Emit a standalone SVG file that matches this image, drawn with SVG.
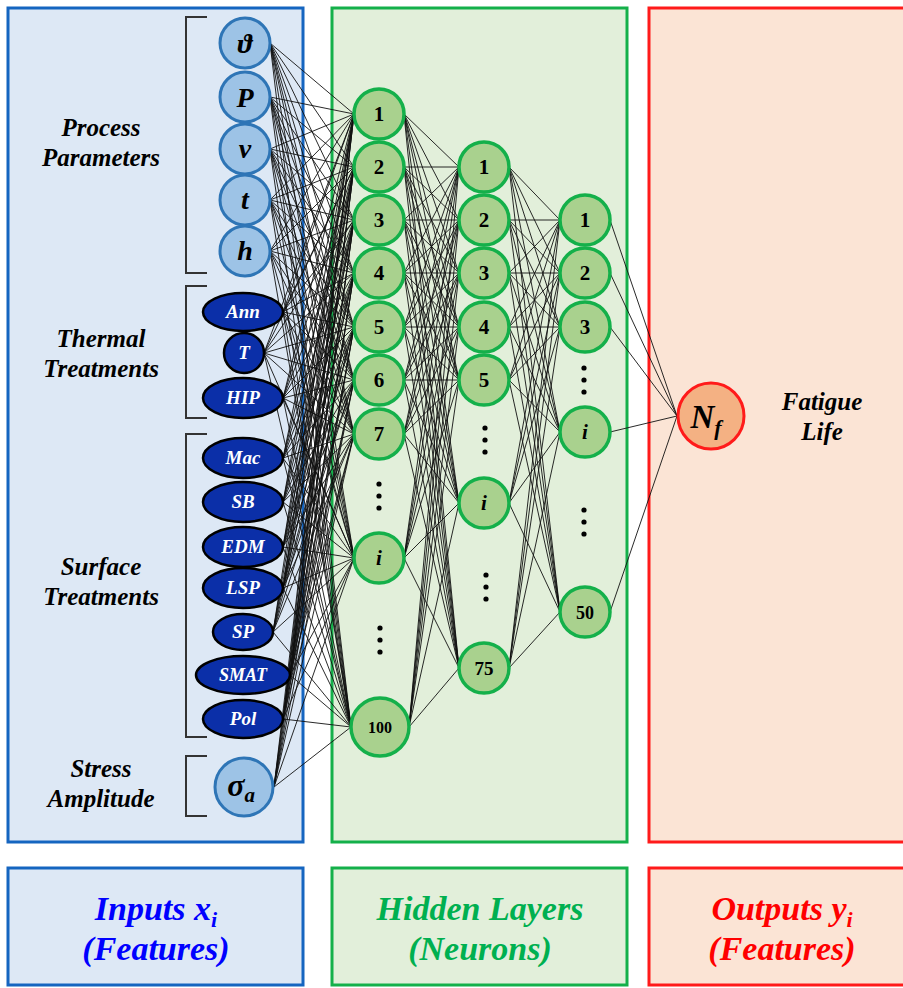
<svg xmlns="http://www.w3.org/2000/svg" width="903" height="988" viewBox="0 0 903 988">
<style>
.t{font-family:"Liberation Serif","Times New Roman","DejaVu Serif",serif;font-weight:bold;font-style:italic}
.n{font-family:"Liberation Serif","Times New Roman","DejaVu Serif",serif;font-weight:bold}
.inC{fill:#9dc3e6;stroke:#2e75b6;stroke-width:3}
.inE{fill:#0b2fa8;stroke:#000;stroke-width:2.5}
.hid{fill:#a9d18e;stroke:#14b04a;stroke-width:3.5}
.br{fill:none;stroke:#333;stroke-width:2}
.edges path{fill:none;stroke:#111;stroke-width:0.9}
.dot{fill:#000}
</style>
<rect width="903" height="988" fill="#fff"/>
<g id="panels">
<rect x="8" y="8" width="295" height="834" fill="#dde8f5" stroke="#1565c0" stroke-width="3"/>
<rect x="332" y="8" width="295" height="834" fill="#e2efda" stroke="#14b04a" stroke-width="3"/>
<rect x="649" y="8" width="260" height="834" fill="#fbe4d5" stroke="#ff1a1a" stroke-width="3"/>
<rect x="8" y="868" width="295" height="117" fill="#dde8f5" stroke="#1565c0" stroke-width="3"/>
<rect x="332" y="868" width="295" height="117" fill="#e2efda" stroke="#14b04a" stroke-width="3"/>
<rect x="649" y="868" width="260" height="117" fill="#fbe4d5" stroke="#ff1a1a" stroke-width="3"/>
</g>
<g id="brackets">
<path class="br" d="M207 17H186V273H207"/>
<path class="br" d="M207 286H186V418H207"/>
<path class="br" d="M207 434H186V737H207"/>
<path class="br" d="M207 756H186V816H207"/>
</g>
<g id="group-labels" class="t" font-size="25" text-anchor="middle" fill="#000">
<text x="101" y="136">Process</text><text x="101" y="166">Parameters</text>
<text x="101" y="347">Thermal</text><text x="101" y="377">Treatments</text>
<text x="101" y="575">Surface</text><text x="101" y="605">Treatments</text>
<text x="101" y="777">Stress</text><text x="101" y="807">Amplitude</text>
<text x="822" y="410">Fatigue</text><text x="822" y="440">Life</text>
</g>
<g id="connectors" class="edges">
<path d="M270 43L354 114M270 43L354 167M270 43L354 220M270 43L354 273M270 43L354 327M270 43L354 380M270 43L354 434M270 43L354 558M270 43L351 727"/>
<path d="M270 97L354 114M270 97L354 167M270 97L354 220M270 97L354 273M270 97L354 327M270 97L354 380M270 97L354 434M270 97L354 558M270 97L351 727"/>
<path d="M270 149L354 114M270 149L354 167M270 149L354 220M270 149L354 273M270 149L354 327M270 149L354 380M270 149L354 434M270 149L354 558M270 149L351 727"/>
<path d="M270 200L354 114M270 200L354 167M270 200L354 220M270 200L354 273M270 200L354 327M270 200L354 380M270 200L354 434M270 200L354 558M270 200L351 727"/>
<path d="M270 251L354 114M270 251L354 167M270 251L354 220M270 251L354 273M270 251L354 327M270 251L354 380M270 251L354 434M270 251L354 558M270 251L351 727"/>
<path d="M283 312L354 114M283 312L354 167M283 312L354 220M283 312L354 273M283 312L354 327M283 312L354 380M283 312L354 434M283 312L354 558M283 312L351 727"/>
<path d="M264 353L354 114M264 353L354 167M264 353L354 220M264 353L354 273M264 353L354 327M264 353L354 380M264 353L354 434M264 353L354 558M264 353L351 727"/>
<path d="M283 398L354 114M283 398L354 167M283 398L354 220M283 398L354 273M283 398L354 327M283 398L354 380M283 398L354 434M283 398L354 558M283 398L351 727"/>
<path d="M283 458L354 114M283 458L354 167M283 458L354 220M283 458L354 273M283 458L354 327M283 458L354 380M283 458L354 434M283 458L354 558M283 458L351 727"/>
<path d="M283 502L354 114M283 502L354 167M283 502L354 220M283 502L354 273M283 502L354 327M283 502L354 380M283 502L354 434M283 502L354 558M283 502L351 727"/>
<path d="M283 547L354 114M283 547L354 167M283 547L354 220M283 547L354 273M283 547L354 327M283 547L354 380M283 547L354 434M283 547L354 558M283 547L351 727"/>
<path d="M283 588L354 114M283 588L354 167M283 588L354 220M283 588L354 273M283 588L354 327M283 588L354 380M283 588L354 434M283 588L354 558M283 588L351 727"/>
<path d="M273 632L354 114M273 632L354 167M273 632L354 220M273 632L354 273M273 632L354 327M273 632L354 380M273 632L354 434M273 632L354 558M273 632L351 727"/>
<path d="M290 675L354 114M290 675L354 167M290 675L354 220M290 675L354 273M290 675L354 327M290 675L354 380M290 675L354 434M290 675L354 558M290 675L351 727"/>
<path d="M283 719L354 114M283 719L354 167M283 719L354 220M283 719L354 273M283 719L354 327M283 719L354 380M283 719L354 434M283 719L354 558M283 719L351 727"/>
<path d="M274 787L354 114M274 787L354 167M274 787L354 220M274 787L354 273M274 787L354 327M274 787L354 380M274 787L354 434M274 787L354 558M274 787L351 727"/>
<path d="M404 114L459 167M404 114L459 220M404 114L459 273M404 114L459 327M404 114L459 380M404 114L459 503M404 114L459 668"/>
<path d="M404 167L459 167M404 167L459 220M404 167L459 273M404 167L459 327M404 167L459 380M404 167L459 503M404 167L459 668"/>
<path d="M404 220L459 167M404 220L459 220M404 220L459 273M404 220L459 327M404 220L459 380M404 220L459 503M404 220L459 668"/>
<path d="M404 273L459 167M404 273L459 220M404 273L459 273M404 273L459 327M404 273L459 380M404 273L459 503M404 273L459 668"/>
<path d="M404 327L459 167M404 327L459 220M404 327L459 273M404 327L459 327M404 327L459 380M404 327L459 503M404 327L459 668"/>
<path d="M404 380L459 167M404 380L459 220M404 380L459 273M404 380L459 327M404 380L459 380M404 380L459 503M404 380L459 668"/>
<path d="M404 434L459 167M404 434L459 220M404 434L459 273M404 434L459 327M404 434L459 380M404 434L459 503M404 434L459 668"/>
<path d="M404 558L459 167M404 558L459 220M404 558L459 273M404 558L459 327M404 558L459 380M404 558L459 503M404 558L459 668"/>
<path d="M409 727L459 167M409 727L459 220M409 727L459 273M409 727L459 327M409 727L459 380M409 727L459 503M409 727L459 668"/>
<path d="M509 167L560 220M509 167L560 273M509 167L560 327M509 167L560 432M509 167L560 612"/>
<path d="M509 220L560 220M509 220L560 273M509 220L560 327M509 220L560 432M509 220L560 612"/>
<path d="M509 273L560 220M509 273L560 273M509 273L560 327M509 273L560 432M509 273L560 612"/>
<path d="M509 327L560 220M509 327L560 273M509 327L560 327M509 327L560 432M509 327L560 612"/>
<path d="M509 380L560 220M509 380L560 273M509 380L560 327M509 380L560 432M509 380L560 612"/>
<path d="M509 503L560 220M509 503L560 273M509 503L560 327M509 503L560 432M509 503L560 612"/>
<path d="M509 668L560 220M509 668L560 273M509 668L560 327M509 668L560 432M509 668L560 612"/>
<path d="M610 220L677 416M610 273L677 416M610 327L677 416M610 432L677 416M610 612L677 416"/>
</g>
<g id="inputs" class="t" text-anchor="middle">
<g id="in-theta"><circle class="inC" cx="245" cy="43" r="25"/><text x="245" y="53" font-size="28">ϑ</text></g>
<g id="in-P"><circle class="inC" cx="245" cy="97" r="25"/><text x="245" y="107" font-size="28">P</text></g>
<g id="in-v"><circle class="inC" cx="245" cy="149" r="25"/><text x="245" y="158" font-size="28">v</text></g>
<g id="in-t"><circle class="inC" cx="245" cy="200" r="25"/><text x="245" y="209" font-size="28">t</text></g>
<g id="in-h"><circle class="inC" cx="245" cy="251" r="25"/><text x="245" y="260" font-size="28">h</text></g>
<g fill="#fff" font-size="19">
<g id="in-Ann"><ellipse class="inE" cx="243" cy="312" rx="40" ry="19"/><text x="243" y="318">Ann</text></g>
<g id="in-T"><circle class="inE" cx="244" cy="353" r="20"/><text x="244" y="359">T</text></g>
<g id="in-HIP"><ellipse class="inE" cx="243" cy="398" rx="40" ry="20"/><text x="243" y="404">HIP</text></g>
<g id="in-Mac"><ellipse class="inE" cx="243" cy="458" rx="40" ry="20"/><text x="243" y="464">Mac</text></g>
<g id="in-SB"><ellipse class="inE" cx="243" cy="502" rx="40" ry="20"/><text x="243" y="508">SB</text></g>
<g id="in-EDM"><ellipse class="inE" cx="243" cy="547" rx="40" ry="20"/><text x="243" y="553">EDM</text></g>
<g id="in-LSP"><ellipse class="inE" cx="243" cy="588" rx="40" ry="20"/><text x="243" y="594">LSP</text></g>
<g id="in-SP"><ellipse class="inE" cx="243" cy="632" rx="30" ry="18"/><text x="243" y="638">SP</text></g>
<g id="in-SMAT"><ellipse class="inE" cx="243" cy="675" rx="47" ry="19"/><text x="243" y="681" font-size="18">SMAT</text></g>
<g id="in-Pol"><ellipse class="inE" cx="243" cy="719" rx="40" ry="19"/><text x="243" y="725">Pol</text></g>
</g>
<g id="in-sigma"><circle class="inC" cx="244" cy="787" r="29"/><text x="241" y="796" font-size="32">σ<tspan font-size="21" dy="6">a</tspan></text></g>
</g>
<g id="hidden1" class="n" font-size="21" text-anchor="middle">
<g id="h1-1"><circle class="hid" cx="379" cy="114" r="25"/><text x="379" y="121">1</text></g>
<g id="h1-2"><circle class="hid" cx="379" cy="167" r="25"/><text x="379" y="174">2</text></g>
<g id="h1-3"><circle class="hid" cx="379" cy="220" r="25"/><text x="379" y="227">3</text></g>
<g id="h1-4"><circle class="hid" cx="379" cy="273" r="25"/><text x="379" y="280">4</text></g>
<g id="h1-5"><circle class="hid" cx="379" cy="327" r="25"/><text x="379" y="334">5</text></g>
<g id="h1-6"><circle class="hid" cx="379" cy="380" r="25"/><text x="379" y="387">6</text></g>
<g id="h1-7"><circle class="hid" cx="379" cy="434" r="25"/><text x="379" y="441">7</text></g>
<g id="h1-dots1"><circle class="dot" cx="379" cy="484" r="2.6"/><circle class="dot" cx="379" cy="496" r="2.6"/><circle class="dot" cx="379" cy="508" r="2.6"/></g>
<g id="h1-i"><circle class="hid" cx="379" cy="558" r="25"/><text x="379" y="565" font-style="italic">i</text></g>
<g id="h1-dots2"><circle class="dot" cx="380" cy="628" r="2.6"/><circle class="dot" cx="380" cy="640" r="2.6"/><circle class="dot" cx="380" cy="652" r="2.6"/></g>
<g id="h1-100"><circle class="hid" cx="380" cy="727" r="29"/><text x="380" y="733" font-size="16">100</text></g>
</g>
<g id="hidden2" class="n" font-size="21" text-anchor="middle">
<g id="h2-1"><circle class="hid" cx="484" cy="167" r="25"/><text x="484" y="174">1</text></g>
<g id="h2-2"><circle class="hid" cx="484" cy="220" r="25"/><text x="484" y="227">2</text></g>
<g id="h2-3"><circle class="hid" cx="484" cy="273" r="25"/><text x="484" y="280">3</text></g>
<g id="h2-4"><circle class="hid" cx="484" cy="327" r="25"/><text x="484" y="334">4</text></g>
<g id="h2-5"><circle class="hid" cx="484" cy="380" r="25"/><text x="484" y="387">5</text></g>
<g id="h2-dots1"><circle class="dot" cx="485" cy="428" r="2.6"/><circle class="dot" cx="485" cy="440" r="2.6"/><circle class="dot" cx="485" cy="452" r="2.6"/></g>
<g id="h2-i"><circle class="hid" cx="484" cy="503" r="25"/><text x="484" y="510" font-style="italic">i</text></g>
<g id="h2-dots2"><circle class="dot" cx="486" cy="575" r="2.6"/><circle class="dot" cx="486" cy="587" r="2.6"/><circle class="dot" cx="486" cy="599" r="2.6"/></g>
<g id="h2-75"><circle class="hid" cx="484" cy="668" r="25"/><text x="484" y="675" font-size="19">75</text></g>
</g>
<g id="hidden3" class="n" font-size="21" text-anchor="middle">
<g id="h3-1"><circle class="hid" cx="585" cy="220" r="25"/><text x="585" y="227">1</text></g>
<g id="h3-2"><circle class="hid" cx="585" cy="273" r="25"/><text x="585" y="280">2</text></g>
<g id="h3-3"><circle class="hid" cx="585" cy="327" r="25"/><text x="585" y="334">3</text></g>
<g id="h3-dots1"><circle class="dot" cx="584" cy="368" r="2.6"/><circle class="dot" cx="584" cy="380" r="2.6"/><circle class="dot" cx="584" cy="392" r="2.6"/></g>
<g id="h3-i"><circle class="hid" cx="585" cy="432" r="25"/><text x="585" y="439" font-style="italic">i</text></g>
<g id="h3-dots2"><circle class="dot" cx="584" cy="510" r="2.6"/><circle class="dot" cx="584" cy="522" r="2.6"/><circle class="dot" cx="584" cy="534" r="2.6"/></g>
<g id="h3-50"><circle class="hid" cx="585" cy="612" r="25"/><text x="585" y="619" font-size="18">50</text></g>
</g>
<g id="output">
<circle cx="711" cy="416" r="33" fill="#f4b183" stroke="#ff1a1a" stroke-width="3"/>
<text class="t" x="706" y="428" font-size="33" text-anchor="middle">N<tspan font-size="22" dy="7">f</tspan></text>
</g>
<g id="legend" class="t" font-size="34" text-anchor="middle">
<text x="156" y="920" fill="#0000ff">Inputs x<tspan font-size="22" dy="7">i</tspan></text>
<text x="156" y="960" fill="#0000ff">(Features)</text>
<text x="480" y="920" fill="#00b050">Hidden Layers</text>
<text x="480" y="960" fill="#00b050">(Neurons)</text>
<text x="782" y="920" fill="#ff0000">Outputs y<tspan font-size="22" dy="7">i</tspan></text>
<text x="782" y="960" fill="#ff0000">(Features)</text>
</g>
</svg>
